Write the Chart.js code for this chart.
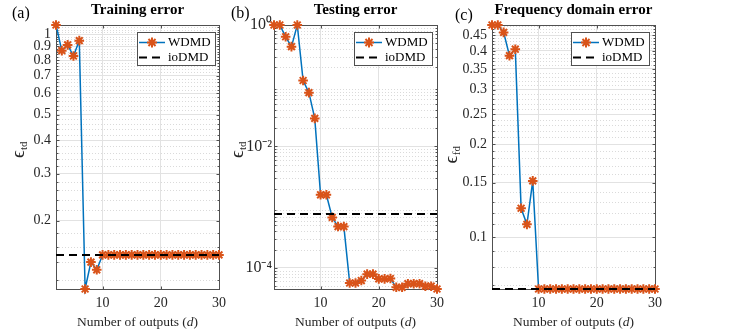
<!DOCTYPE html>
<html>
<head>
<meta charset="utf-8">
<script src="https://cdn.jsdelivr.net/npm/chart.js@4.4.0/dist/chart.umd.min.js"></script>
<style>
  html, body { margin: 0; padding: 0; background: #fff; }
  #wrap { position: relative; width: 730px; height: 334px; }
  canvas { position: absolute; left: 0; top: 0; }
</style>
</head>
<body>
<div id="wrap">
  <canvas id="trainChart" width="730" height="334"></canvas>
  <canvas id="testChart" width="730" height="334"></canvas>
  <canvas id="freqChart" width="730" height="334"></canvas>
</div>
<script>
// number of outputs d
const outputs = [2, 3, 4, 5, 6, 7, 8, 9, 10, 11, 12, 13, 14, 15, 16, 17, 18, 19, 20, 21, 22, 23, 24, 25, 26, 27, 28, 29, 30];

// (a) training error
const trainWDMD = [1.083, 0.868, 0.912, 0.829, 0.946, 0.111, 0.140, 0.131,
  0.149, 0.149, 0.149, 0.149, 0.149, 0.149, 0.149, 0.149, 0.149, 0.149, 0.149,
  0.149, 0.149, 0.149, 0.149, 0.149, 0.149, 0.149, 0.149, 0.149, 0.149];
const trainIoDMD = 0.149;

// (b) testing error
const testWDMD = [1.0, 1.0, 0.64, 0.44, 1.0, 0.122, 0.077, 0.029,
  1.6e-3, 1.6e-3, 6.8e-4, 4.8e-4, 4.8e-4, 5.65e-5, 5.65e-5, 6.2e-5, 7.9e-5, 7.9e-5,
  6.6e-5, 6.6e-5, 6.7e-5, 4.8e-5, 4.8e-5, 5.5e-5, 5.5e-5, 5.5e-5, 5.0e-5, 5.0e-5, 4.5e-5];
const testIoDMD = 7.7e-4;

// (c) frequency domain error
const freqWDMD = [0.485, 0.485, 0.459, 0.386, 0.405, 0.124, 0.110, 0.152,
  0.068, 0.068, 0.068, 0.068, 0.068, 0.068, 0.068, 0.068, 0.068, 0.068, 0.068,
  0.068, 0.068, 0.068, 0.068, 0.068, 0.068, 0.068, 0.068, 0.068, 0.068];
const freqIoDMD = 0.068;

// tick labels
const xTicks = [10, 20, 30];
const trainTicks = [0.2, 0.3, 0.4, 0.5, 0.6, 0.7, 0.8, 0.9, 1];
const trainLabels = ['0.2', '0.3', '0.4', '0.5', '0.6', '0.7', '0.8', '0.9', '1'];
const testTicks = [1e-4, 1e-2, 1];
const testLabels = ['10⁻⁴', '10⁻²', '10⁰'];
const freqTicks = [0.1, 0.15, 0.2, 0.25, 0.3, 0.35, 0.4, 0.45];
const freqLabels = ['0.1', '0.15', '0.2', '0.25', '0.3', '0.35', '0.4', '0.45'];

// minor (dotted) grid positions
function stepMinors(from, to, step, majors) {
  const out = [];
  for (let v = from; v <= to + 1e-9; v += step) {
    const r = Math.round(v * 1000) / 1000;
    if (!majors.some(m => Math.abs(m - r) < 1e-9)) out.push(r);
  }
  return out;
}
function decadeMinors(e0, e1) {
  const out = [];
  for (let e = e0; e <= e1; e++) for (let k = 2; k <= 9; k++) out.push(k * Math.pow(10, e));
  return out;
}

Chart.defaults.font.family = '"Liberation Serif", "Times New Roman", serif';
Chart.defaults.font.size = 14;
Chart.defaults.color = '#262626';

const SERIF = '"Liberation Serif", "Times New Roman", serif';

function star(ctx, x, y, r) {
  ctx.beginPath();
  for (let i = 0; i < 4; i++) {
    const a = i * Math.PI / 4;
    ctx.moveTo(x - Math.cos(a) * r, y - Math.sin(a) * r);
    ctx.lineTo(x + Math.cos(a) * r, y + Math.sin(a) * r);
  }
  ctx.stroke();
}

const framePlugin = {
  id: 'frame',
  beforeDatasetsDraw(chart, args, o) {
    const { ctx, chartArea: a, scales: { x, y } } = chart;
    ctx.save();
    ctx.lineWidth = 1;
    ctx.strokeStyle = '#dadada';
    ctx.setLineDash([1, 2]);
    o.minor.forEach(v => {
      const py = Math.round(y.getPixelForValue(v)) + 0.5;
      if (py < a.top || py > a.bottom) return;
      ctx.beginPath(); ctx.moveTo(a.left, py); ctx.lineTo(a.right, py); ctx.stroke();
    });
    ctx.setLineDash([]);
    ctx.strokeStyle = '#505050';
    const L = Math.round(a.left) + 0.5, R = Math.round(a.right) + 0.5;
    const T = Math.round(a.top) + 0.5, B = Math.round(a.bottom) + 0.5;
    ctx.strokeRect(L, T, R - L, B - T);
    ctx.beginPath();
    o.major.forEach(v => {
      const py = Math.round(y.getPixelForValue(v)) + 0.5;
      ctx.moveTo(L, py); ctx.lineTo(L + 3, py);
      ctx.moveTo(R, py); ctx.lineTo(R - 3, py);
    });
    o.minor.forEach(v => {
      const py = Math.round(y.getPixelForValue(v)) + 0.5;
      if (py < a.top || py > a.bottom) return;
      ctx.moveTo(L, py); ctx.lineTo(L + 2, py);
      ctx.moveTo(R, py); ctx.lineTo(R - 2, py);
    });
    xTicks.forEach(v => {
      const px = Math.round(x.getPixelForValue(v)) + 0.5;
      ctx.moveTo(px, B); ctx.lineTo(px, B - 3);
      ctx.moveTo(px, T); ctx.lineTo(px, T + 3);
    });
    ctx.stroke();
    ctx.restore();
  },
  afterDatasetsDraw(chart, args, o) {
    const { ctx } = chart;
    const lx = o.legendLeft, ly = 32, lw = 78, lh = 33;
    ctx.save();
    ctx.fillStyle = '#fff';
    ctx.fillRect(lx, ly, lw, lh);
    ctx.strokeStyle = '#505050';
    ctx.lineWidth = 1;
    ctx.strokeRect(lx + 0.5, ly + 0.5, lw, lh);
    // WDMD row
    ctx.strokeStyle = '#0072BD';
    ctx.lineWidth = 1.5;
    ctx.beginPath(); ctx.moveTo(lx + 2, ly + 10.5); ctx.lineTo(lx + 28, ly + 10.5); ctx.stroke();
    ctx.strokeStyle = '#D95319';
    ctx.lineWidth = 2;
    star(ctx, lx + 15, ly + 10.5, 5);
    // ioDMD row
    ctx.strokeStyle = '#000';
    ctx.lineWidth = 2;
    ctx.setLineDash([8, 5]);
    ctx.beginPath(); ctx.moveTo(lx + 2, ly + 25.5); ctx.lineTo(lx + 28, ly + 25.5); ctx.stroke();
    ctx.setLineDash([]);
    ctx.fillStyle = '#000';
    ctx.font = '13px ' + SERIF;
    ctx.textBaseline = 'middle';
    ctx.textAlign = 'left';
    ctx.fillText('WDMD', lx + 31, ly + 10.5);
    ctx.fillText('ioDMD', lx + 31, ly + 25.5);
    ctx.restore();
  },
  afterDraw(chart, args, o) {
    const { ctx, chartArea: a } = chart;
    const cx = (a.left + a.right) / 2;
    ctx.save();
    ctx.fillStyle = '#000';
    // panel tag
    ctx.font = '16px ' + SERIF;
    ctx.textAlign = 'left';
    ctx.textBaseline = 'alphabetic';
    ctx.fillText(o.tag, o.tagX, o.tagY);
    // title
    ctx.font = 'bold 15px ' + SERIF;
    ctx.textAlign = 'center';
    ctx.fillText(o.title, cx, 14);
    // x label with italic d
    ctx.fillStyle = '#262626';
    const p1 = 'Number of outputs (', p2 = 'd', p3 = ')';
    ctx.font = '13.5px ' + SERIF;
    const w1 = ctx.measureText(p1).width, w3 = ctx.measureText(p3).width;
    ctx.font = 'italic 13.5px ' + SERIF;
    const w2 = ctx.measureText(p2).width;
    let sx = cx - (w1 + w2 + w3) / 2;
    ctx.textAlign = 'left';
    ctx.font = '13.5px ' + SERIF;
    ctx.fillText(p1, sx, 326);
    ctx.font = 'italic 13.5px ' + SERIF;
    ctx.fillText(p2, sx + w1, 326);
    ctx.font = '13.5px ' + SERIF;
    ctx.fillText(p3, sx + w1 + w2, 326);
    // y label epsilon with subscript
    ctx.translate(o.ylabX, o.ylabY);
    ctx.rotate(-Math.PI / 2);
    ctx.font = '19px ' + SERIF;
    const we = ctx.measureText('ϵ').width;
    ctx.font = '11px ' + SERIF;
    const ws = ctx.measureText(o.sub).width;
    const s0 = -(we + ws) / 2;
    ctx.font = '19px ' + SERIF;
    ctx.fillText('ϵ', s0, 0);
    ctx.font = '11px ' + SERIF;
    ctx.fillText(o.sub, s0 + we + 0.5, 3);
    ctx.restore();
  }
};

function makePanel(id, p) {
  const yMin = Math.min(...p.values);
  const yMax = Math.max(...p.values);
  return new Chart(document.getElementById(id), {
    type: 'line',
    data: {
      datasets: [
        {
          label: 'ioDMD',
          data: outputs.map(d => ({ x: d, y: p.io })),
          borderColor: '#000',
          borderWidth: 2,
          borderDash: [8, 5],
          pointRadius: 0,
          order: 0,
          clip: false
        },
        {
          label: 'WDMD',
          data: outputs.map((d, i) => ({ x: d, y: p.values[i] })),
          borderColor: '#0072BD',
          borderWidth: 1.5,
          tension: 0,
          pointStyle: 'star',
          pointRadius: 4.8,
          pointBorderColor: '#D95319',
          pointBackgroundColor: '#D95319',
          pointBorderWidth: 2,
          order: 1,
          clip: false
        }
      ]
    },
    options: {
      responsive: false,
      animation: false,
      events: [],
      layout: { padding: { left: p.left - 40, right: 730 - p.right, top: 25, bottom: 0 } },
      plugins: {
        legend: { display: false },
        tooltip: { enabled: false },
        frame: {
          minor: p.minor, major: p.ticks, legendLeft: p.legendLeft,
          tag: p.tag, tagX: p.tagX, tagY: p.tagY, title: p.title,
          ylabX: p.ylabX, ylabY: p.ylabY, sub: p.sub
        }
      },
      scales: {
        x: {
          type: 'linear',
          min: 2,
          max: 30,
          afterBuildTicks: s => { s.ticks = xTicks.map(v => ({ value: v })); },
          afterFit: s => { s.height = 45; },
          grid: { color: '#e2e2e2', drawTicks: false },
          border: { display: false },
          ticks: { padding: 6, font: { size: 14 }, callback: v => String(v) }
        },
        y: {
          type: 'logarithmic',
          min: yMin,
          max: yMax,
          afterBuildTicks: s => { s.ticks = p.ticks.map(v => ({ value: v })); },
          afterFit: s => { s.width = 40; },
          grid: { color: '#e2e2e2', drawTicks: false },
          border: { display: false },
          ticks: {
            padding: p.tickPad,
            font: { size: p.tickSize },
            callback: v => {
              const i = p.ticks.findIndex(t => Math.abs(t - v) / t < 1e-6);
              return i >= 0 ? p.labels[i] : '';
            }
          }
        }
      }
    },
    plugins: [framePlugin]
  });
}

makePanel('trainChart', {
  values: trainWDMD, io: trainIoDMD, ticks: trainTicks, labels: trainLabels,
  minor: stepMinors(0.1, 1.1, 0.02, trainTicks),
  left: 56, right: 219, tickPad: 5, tickSize: 14, legendLeft: 137,
  tag: '(a)', tagX: 12, tagY: 18, title: 'Training error',
  ylabX: 24, ylabY: 150, sub: 'td'
});

makePanel('testChart', {
  values: testWDMD, io: testIoDMD, ticks: testTicks, labels: testLabels,
  minor: decadeMinors(-5, -1),
  left: 274, right: 437, tickPad: 2, tickSize: 16, legendLeft: 354,
  tag: '(b)', tagX: 231, tagY: 18, title: 'Testing error',
  ylabX: 243, ylabY: 150, sub: 'td'
});

makePanel('freqChart', {
  values: freqWDMD, io: freqIoDMD, ticks: freqTicks, labels: freqLabels,
  minor: stepMinors(0.06, 0.5, 0.01, freqTicks),
  left: 492, right: 655, tickPad: 5, tickSize: 14, legendLeft: 571,
  tag: '(c)', tagX: 455, tagY: 20, title: 'Frequency domain error',
  ylabX: 457, ylabY: 155, sub: 'fd'
});
</script>
</body>
</html>
